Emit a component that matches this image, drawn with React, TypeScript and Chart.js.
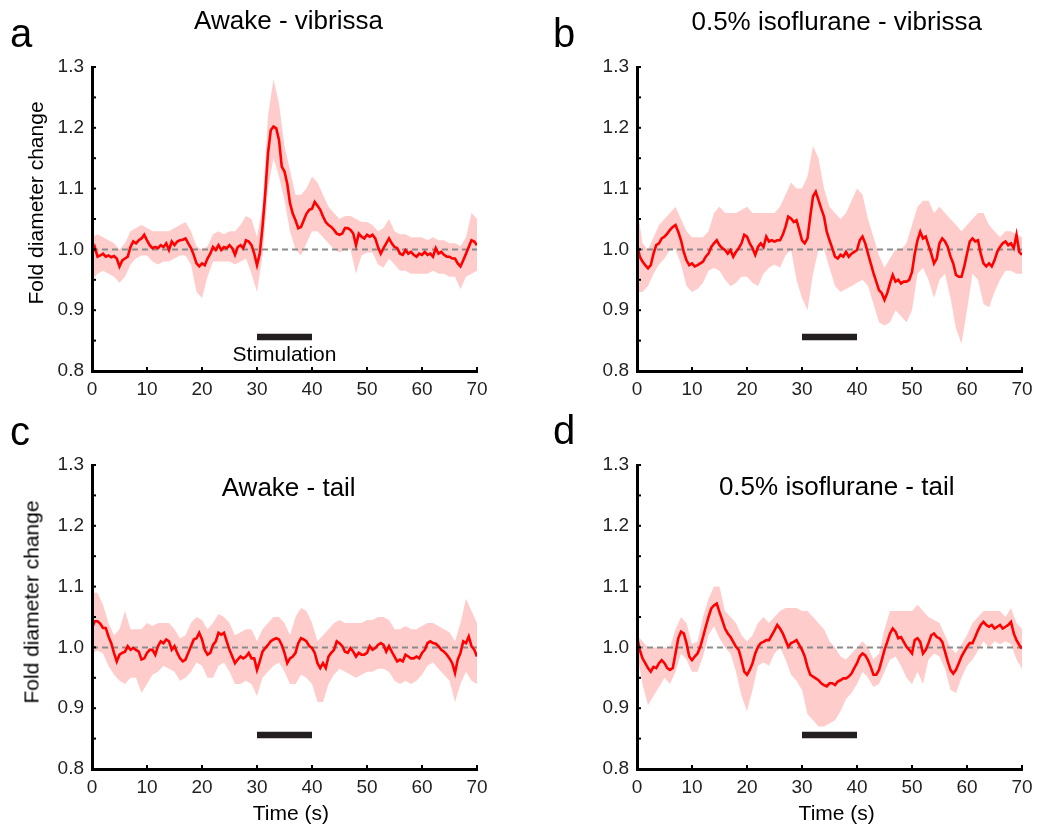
import React, { useEffect, useRef } from "react";
import { Chart, registerables } from "chart.js";

Chart.register(...registerables);

// ---------- data ----------
const TIME_STEP = 0.5; // s, sampling of the mean traces
const TIME = Array.from({ length: 141 }, (_, i) => i * TIME_STEP);
const BAND_TIME = Array.from({ length: 71 }, (_, i) => i); // 1 s sampling of the error band

const X_MIN = 0;
const X_MAX = 70;
const X_STEP = 10;
const Y_MIN = 0.8;
const Y_MAX = 1.3;
const Y_STEP = 0.05;
const BASELINE = 1.0;
const STIM_START = 30;
const STIM_END = 40;
const STIM_LEVEL = 0.856;

const MEAN_A = [
  0.993, 1.004, 0.988, 0.99, 0.993, 0.988, 0.99, 0.987, 0.989, 0.985,
  0.972, 0.982, 0.985, 0.988, 1.004, 1.013, 1.01, 1.015, 1.018, 1.024,
  1.015, 1.007, 1.002, 1.004, 1.002, 1.007, 1.004, 1.01, 0.999, 1.013,
  1.007, 1.013, 1.015, 1.016, 1.018, 1.01, 1.002, 0.991, 0.977, 0.972,
  0.977, 0.974, 0.985, 0.993, 1.004, 0.999, 1.007, 0.999, 1.004, 1.002,
  1.007, 1.002, 0.991, 1.004, 1.007, 1.002, 1.015, 1.013, 1.007, 0.993,
  0.974, 0.993, 1.037, 1.092, 1.158, 1.196, 1.202, 1.199, 1.18, 1.136,
  1.128, 1.108, 1.076, 1.059, 1.048, 1.035, 1.037, 1.048, 1.059, 1.065,
  1.067, 1.078, 1.072, 1.065, 1.054, 1.045, 1.04, 1.037, 1.032, 1.026,
  1.024, 1.026, 1.035, 1.035, 1.032, 1.026, 1.007, 1.026, 1.021, 1.018,
  1.024, 1.021, 1.024, 1.018, 1.004, 0.993, 1.002, 1.01, 1.018, 1.01,
  1.004, 1.002, 0.993, 0.991, 0.999, 0.993, 0.996, 0.991, 0.988, 0.993,
  0.991, 0.996, 0.991, 0.993, 0.988, 1.002, 0.993, 0.996, 0.991, 0.988,
  0.988, 0.985, 0.985, 0.977, 0.972, 0.982, 0.993, 1.004, 1.015, 1.013,
  1.007,
];
const UPPER_A = [
  1.02, 1.025, 1.02, 1.015, 1.01, 1.0, 1.01, 1.03, 1.035, 1.04,
  1.035, 1.03, 1.03, 1.03, 1.03, 1.035, 1.04, 1.045, 1.03, 1.005,
  1.0, 1.005, 1.025, 1.03, 1.025, 1.03, 1.03, 1.04, 1.055, 1.05,
  1.02, 1.07, 1.22, 1.28, 1.24, 1.17, 1.13, 1.09, 1.09, 1.1,
  1.12, 1.11, 1.09, 1.07, 1.06, 1.05, 1.055, 1.055, 1.05, 1.045,
  1.045, 1.04, 1.03, 1.035, 1.05, 1.03, 1.025, 1.025, 1.02, 1.02,
  1.02, 1.015, 1.02, 1.015, 1.015, 1.01, 1.01, 1.005, 1.02, 1.06,
  1.05,
];
const LOWER_A = [
  0.95, 0.96, 0.965, 0.96, 0.955, 0.945, 0.955, 0.975, 0.985, 0.99,
  0.99, 0.98, 0.975, 0.98, 0.98, 0.985, 0.99, 0.99, 0.975, 0.93,
  0.92, 0.955, 0.98, 0.98, 0.98, 0.98, 0.975, 0.98, 0.985, 0.96,
  0.93, 0.99, 1.1, 1.15, 1.12, 1.08, 1.03, 1.0, 0.99, 1.01,
  1.03, 1.03, 1.02, 1.01, 1.0, 0.995, 1.0, 1.0, 0.96, 0.99,
  0.995, 0.995, 0.975, 0.97, 0.985, 0.975, 0.965, 0.965, 0.96, 0.96,
  0.96, 0.96, 0.965, 0.96, 0.96, 0.955, 0.955, 0.935, 0.955, 0.96,
  0.965,
];

const MEAN_B = [
  1.01, 0.988, 0.98, 0.974, 0.969, 0.974, 0.993, 1.007, 1.01, 1.018,
  1.021, 1.026, 1.032, 1.037, 1.04, 1.029, 1.015, 0.996, 0.982, 0.974,
  0.977, 0.972, 0.974, 0.977, 0.98, 0.988, 0.993, 1.004, 1.01, 1.015,
  1.007, 1.002, 0.999, 0.993, 0.999, 0.988, 0.996, 1.002, 1.01, 1.024,
  1.021, 1.01, 1.002, 0.991, 1.004, 1.01, 1.004, 1.021, 1.013, 1.015,
  1.013, 1.015, 1.015, 1.024, 1.037, 1.054, 1.051, 1.045, 1.048, 1.032,
  1.015, 1.01, 1.018, 1.054, 1.087, 1.095, 1.081, 1.067, 1.054, 1.029,
  1.015, 1.002, 0.988, 0.985, 0.991, 0.988, 0.996, 0.988, 0.993, 0.996,
  0.999, 1.015, 1.021, 1.01, 0.993, 0.977, 0.961, 0.947, 0.933, 0.928,
  0.917, 0.928, 0.944, 0.958, 0.947, 0.95, 0.944, 0.947, 0.947, 0.95,
  0.963, 0.993, 1.015, 1.029, 1.018, 1.021, 1.007, 0.993, 0.977, 0.985,
  1.01, 1.018, 1.013, 1.004, 0.988, 0.977, 0.958, 0.955, 0.955, 0.972,
  0.993, 1.013, 1.018, 1.013, 1.015, 0.993, 0.977, 0.972, 0.977, 0.972,
  0.982, 0.996, 1.004, 1.01, 1.013, 1.007, 1.01, 1.002, 1.024, 0.996,
  0.991,
];
const UPPER_B = [
  1.07, 1.01, 1.0, 1.02, 1.04, 1.05, 1.06, 1.07, 1.05, 1.03,
  1.02, 1.02, 1.02, 1.03, 1.06, 1.07, 1.06, 1.06, 1.06, 1.065,
  1.07, 1.06, 1.06, 1.06, 1.06, 1.06, 1.07, 1.09, 1.11, 1.1,
  1.1, 1.12, 1.17, 1.15, 1.1, 1.07, 1.06, 1.05, 1.06, 1.08,
  1.1, 1.09, 1.05, 1.02, 0.99, 0.97, 0.985, 1.0, 1.0, 1.01,
  1.04, 1.07, 1.08, 1.08, 1.06, 1.07, 1.06, 1.05, 1.04, 1.03,
  1.04, 1.05, 1.06, 1.06, 1.04, 1.03, 1.02, 1.03, 1.03, 1.025,
  1.02,
];
const LOWER_B = [
  0.93, 0.93, 0.94, 0.96, 0.975, 0.985, 1.0, 1.0, 0.975, 0.94,
  0.93, 0.935, 0.945, 0.965, 0.97, 0.965, 0.95, 0.94, 0.945, 0.955,
  0.955, 0.945, 0.94, 0.96, 0.97, 0.975, 0.97, 0.99, 1.0, 0.95,
  0.92, 0.9, 0.96, 1.0, 1.0, 0.97, 0.94, 0.93, 0.935, 0.94,
  0.945, 0.95, 0.94, 0.91, 0.88, 0.875, 0.88, 0.9, 0.89, 0.88,
  0.9, 0.96, 0.97, 0.95, 0.92, 0.95, 0.96, 0.92, 0.87, 0.845,
  0.9, 0.96, 0.95, 0.91, 0.905, 0.93, 0.95, 0.965, 0.965, 0.96,
  0.96,
];

const MEAN_C = [
  1.032, 1.043, 1.043, 1.039, 1.032, 1.032, 1.018, 1.007, 0.991, 0.977,
  0.988, 0.991, 0.993, 1.002, 0.996, 0.999, 0.996, 0.993, 0.98, 0.982,
  0.991, 0.996, 0.996, 0.988, 1.002, 1.01, 1.007, 1.013, 1.01, 0.996,
  1.002, 0.991, 0.982, 0.977, 0.98, 0.991, 1.002, 1.013, 1.015, 1.024,
  1.013, 0.996, 0.988, 0.991, 1.004, 1.01, 1.024, 1.021, 1.024, 1.01,
  0.996, 0.985, 0.974, 0.98, 0.985, 0.982, 0.985, 0.991, 0.982, 0.982,
  0.963, 0.977, 0.993, 0.999, 1.004, 1.01, 1.013, 1.015, 1.013, 1.004,
  0.991, 0.974, 0.982, 0.985, 0.991, 1.007, 1.015, 1.013, 1.01, 1.002,
  0.999, 0.991, 0.974, 0.966, 0.974, 0.966, 0.985, 0.991, 0.996, 1.01,
  1.007, 1.002, 0.993, 0.991, 0.999, 0.993, 0.985, 0.991, 0.988, 0.988,
  0.991, 1.002, 0.996, 0.999, 1.004, 1.007, 1.004, 0.993, 1.002, 0.993,
  0.985, 0.977, 0.98, 0.977, 0.988, 0.985, 0.982, 0.982, 0.985, 0.982,
  0.991, 0.996, 1.007, 1.01, 1.007, 1.006, 1.002, 0.996, 0.993, 0.988,
  0.982, 0.974, 0.958, 0.98, 0.991, 1.01, 1.007, 1.018, 1.002, 0.996,
  0.985,
];
const UPPER_C = [
  1.09, 1.09, 1.07, 1.04, 1.02, 1.03, 1.06, 1.03, 1.03, 1.03,
  1.04, 1.035, 1.04, 1.04, 1.04, 1.03, 1.015, 1.02, 1.04, 1.05,
  1.045, 1.03, 1.04, 1.055, 1.05, 1.04, 1.02, 1.025, 1.03, 1.03,
  1.01, 1.03, 1.04, 1.05, 1.05, 1.04, 1.02, 1.05, 1.065, 1.06,
  1.04, 1.01, 1.02, 1.03, 1.04, 1.045, 1.04, 1.04, 1.04, 1.04,
  1.045, 1.045, 1.05, 1.05, 1.045, 1.03, 1.03, 1.035, 1.03, 1.03,
  1.035, 1.04, 1.04, 1.035, 1.03, 1.025, 1.01, 1.04, 1.08, 1.06,
  1.04,
];
const LOWER_C = [
  0.99, 0.995, 0.99, 0.97, 0.955, 0.945, 0.94, 0.95, 0.95, 0.925,
  0.94, 0.955, 0.96, 0.97, 0.965, 0.96, 0.945, 0.95, 0.96, 0.975,
  0.97, 0.95, 0.95, 0.97, 0.975, 0.96, 0.94, 0.94, 0.945, 0.94,
  0.92, 0.95, 0.96, 0.97, 0.975, 0.96, 0.94, 0.94, 0.955, 0.95,
  0.94, 0.91, 0.91, 0.94, 0.955, 0.965, 0.96, 0.955, 0.95, 0.955,
  0.96, 0.96, 0.965, 0.965, 0.96, 0.945, 0.94, 0.945, 0.94, 0.945,
  0.955, 0.97, 0.975, 0.965, 0.955, 0.945, 0.91, 0.94, 0.96, 0.945,
  0.94,
];

const MEAN_D = [
  1.017, 0.996, 0.982, 0.974, 0.966, 0.96, 0.968, 0.966, 0.974, 0.979,
  0.974, 0.966, 0.963, 0.966, 0.99, 1.015, 1.026, 1.023, 1.007, 0.985,
  0.979, 0.985, 0.99, 1.001, 1.017, 1.034, 1.05, 1.064, 1.069, 1.072,
  1.058, 1.045, 1.031, 1.023, 1.017, 1.009, 1.001, 0.996, 0.979, 0.96,
  0.955, 0.963, 0.974, 0.99, 1.001, 1.007, 1.009, 1.012, 1.012, 1.02,
  1.028, 1.037, 1.031, 1.023, 1.012, 1.001, 1.007, 1.009, 1.012, 1.004,
  0.996, 0.985, 0.968, 0.955, 0.952, 0.949, 0.946, 0.941, 0.938, 0.936,
  0.941, 0.941, 0.938, 0.944, 0.946, 0.949, 0.949, 0.952, 0.957, 0.966,
  0.974, 0.985, 0.99, 0.987, 0.979, 0.968, 0.955, 0.955, 0.963, 0.979,
  0.996, 1.009, 1.023, 1.031, 1.026, 1.015, 1.017, 1.009, 1.001, 0.996,
  0.99, 1.012, 1.015, 1.009, 0.99, 0.996, 1.007, 1.02, 1.023, 1.017,
  1.015, 1.009, 0.993, 0.977, 0.963, 0.957, 0.963, 0.974, 0.985, 0.993,
  1.001, 1.007, 1.007, 1.017, 1.028, 1.037, 1.042, 1.037, 1.034, 1.037,
  1.031, 1.034, 1.037, 1.031, 1.034, 1.037, 1.042, 1.023, 1.012, 1.004,
  0.998,
];
const UPPER_D = [
  1.02, 1.01, 1.0, 1.0, 1.0, 1.0, 1.0, 1.03, 1.05, 1.04,
  1.005, 1.01, 1.05, 1.08, 1.1, 1.1, 1.06, 1.05, 1.04, 1.02,
  1.01, 1.02, 1.04, 1.05, 1.04, 1.05, 1.06, 1.065, 1.065, 1.065,
  1.06, 1.06, 1.05, 1.04, 1.03, 1.01, 1.0, 0.985, 0.98, 0.99,
  1.0, 1.01, 1.0, 0.98, 0.99, 1.03, 1.06, 1.06, 1.06, 1.06,
  1.06, 1.07, 1.06, 1.05, 1.045, 1.04, 1.02, 1.0, 0.99, 1.005,
  1.02, 1.04, 1.05, 1.06, 1.06, 1.06, 1.06, 1.05, 1.065, 1.04,
  1.03,
];
const LOWER_D = [
  0.99, 0.94, 0.905, 0.92, 0.935, 0.95, 0.94, 0.96, 0.99, 0.98,
  0.96, 0.96, 0.985, 1.02, 1.035, 1.015, 1.0, 0.99, 0.96, 0.92,
  0.895, 0.93, 0.97, 0.975, 0.97, 0.99, 1.0, 0.98, 0.955, 0.945,
  0.93, 0.89, 0.88, 0.87, 0.87, 0.875, 0.88, 0.895, 0.915, 0.925,
  0.94, 0.96, 0.95, 0.935, 0.94, 0.96, 0.98, 0.985, 0.97, 0.95,
  0.94, 0.96, 0.94, 0.98, 0.99, 0.985, 0.965, 0.93, 0.925, 0.95,
  0.97, 0.98, 0.995, 1.01, 1.0, 1.01, 1.005, 1.01, 1.005, 0.98,
  0.965,
];

// ---------- styling ----------
const FONT = '"Liberation Sans", Arial, Helvetica, sans-serif';
const RED = "#ff0000";
const PINK = "#ffcccc";
const DASH_GREY = "#8c8c8c";
const BAR_COLOR = "#231f20";
const TICK_COLOR = "#231f20";

type PanelCfg = {
  key: string;
  mean: number[];
  upper: number[];
  lower: number[];
  left: number;
  top: number;
  width: number;
  height: number;
  area: { l: number; r: number; t: number; b: number };
};

const PANELS: PanelCfg[] = [
  { key: "a", mean: MEAN_A, upper: UPPER_A, lower: LOWER_A, left: 0, top: 0, width: 520, height: 415, area: { l: 92, r: 477, t: 67, b: 371 } },
  { key: "b", mean: MEAN_B, upper: UPPER_B, lower: LOWER_B, left: 520, top: 0, width: 521, height: 415, area: { l: 117, r: 502, t: 67, b: 371 } },
  { key: "c", mean: MEAN_C, upper: UPPER_C, lower: LOWER_C, left: 0, top: 415, width: 520, height: 414, area: { l: 92, r: 477, t: 50, b: 354 } },
  { key: "d", mean: MEAN_D, upper: UPPER_D, lower: LOWER_D, left: 520, top: 415, width: 521, height: 414, area: { l: 117, r: 502, t: 50, b: 354 } },
];

const inwardTicks = {
  id: "inwardTicks",
  afterDraw(chart: any) {
    const { ctx, chartArea, scales } = chart;
    const xs = scales.x;
    const ys = scales.y;
    ctx.save();
    ctx.strokeStyle = "#000";
    ctx.lineWidth = 2;
    ys.ticks.forEach((t: any) => {
      const py = ys.getPixelForValue(t.value);
      ctx.beginPath();
      ctx.moveTo(chartArea.left, py);
      ctx.lineTo(chartArea.left + 4, py);
      ctx.stroke();
    });
    xs.ticks.forEach((t: any) => {
      const px = xs.getPixelForValue(t.value);
      ctx.beginPath();
      ctx.moveTo(px, chartArea.bottom);
      ctx.lineTo(px, chartArea.bottom - 4);
      ctx.stroke();
    });
    ctx.restore();
  },
};

function Panel({ cfg }: { cfg: PanelCfg }) {
  const ref = useRef<HTMLCanvasElement | null>(null);
  useEffect(() => {
    if (!ref.current) return;
    const { area, width, height } = cfg;
    const chart = new Chart(ref.current, {
      type: "line",
      data: {
        datasets: [
          {
            label: "mean",
            data: TIME.map((t, i) => ({ x: t, y: cfg.mean[i] })),
            borderColor: RED,
            borderWidth: 2.6,
            pointRadius: 0,
            tension: 0,
            fill: false,
            order: 0,
          },
          {
            label: "baseline",
            data: [
              { x: X_MIN, y: BASELINE },
              { x: X_MAX, y: BASELINE },
            ],
            borderColor: DASH_GREY,
            borderWidth: 2,
            borderDash: [6, 4],
            pointRadius: 0,
            fill: false,
            order: 1,
          },
          {
            label: "stimulation",
            data: [
              { x: STIM_START, y: STIM_LEVEL },
              { x: STIM_END, y: STIM_LEVEL },
            ],
            borderColor: BAR_COLOR,
            borderWidth: 6.5,
            borderCapStyle: "butt",
            pointRadius: 0,
            fill: false,
            order: 2,
          },
          {
            label: "upper",
            data: BAND_TIME.map((t, i) => ({ x: t, y: cfg.upper[i] })),
            borderColor: "rgba(0,0,0,0)",
            borderWidth: 0,
            backgroundColor: PINK,
            pointRadius: 0,
            fill: "+1",
            order: 3,
          },
          {
            label: "lower",
            data: BAND_TIME.map((t, i) => ({ x: t, y: cfg.lower[i] })),
            borderColor: "rgba(0,0,0,0)",
            borderWidth: 0,
            pointRadius: 0,
            fill: false,
            order: 4,
          },
        ],
      },
      options: {
        animation: false,
        responsive: false,
        maintainAspectRatio: false,
        layout: { padding: { left: 0, top: area.t, right: width - area.r, bottom: 0 } },
        plugins: {
          legend: { display: false },
          tooltip: { enabled: false },
          title: { display: false },
        },
        scales: {
          x: {
            type: "linear",
            min: X_MIN,
            max: X_MAX,
            ticks: {
              stepSize: X_STEP,
              autoSkip: false,
              maxRotation: 0,
              padding: 7,
              color: TICK_COLOR,
              font: { family: FONT, size: 19 },
            },
            grid: { display: false, drawTicks: false },
            border: { display: true, color: "#000", width: 3, z: 2 },
            afterFit: (s: any) => {
              s.height = height - area.b;
              s.paddingLeft = 0;
              s.paddingRight = 0;
            },
          },
          y: {
            type: "linear",
            min: Y_MIN,
            max: Y_MAX,
            ticks: {
              stepSize: Y_STEP,
              autoSkip: false,
              padding: 8,
              color: TICK_COLOR,
              font: { family: FONT, size: 19 },
              callback: (v: any) => {
                const n = Number(v) * 10;
                return Math.abs(n - Math.round(n)) < 1e-6 ? Number(v).toFixed(1) : "";
              },
            },
            grid: { display: false, drawTicks: false },
            border: { display: true, color: "#000", width: 3, z: 2 },
            afterFit: (s: any) => {
              s.width = area.l;
              s.paddingTop = 0;
              s.paddingBottom = 0;
            },
          },
        },
      } as any,
      plugins: [inwardTicks],
    });
    return () => chart.destroy();
  }, [cfg]);
  return (
    <canvas
      ref={ref}
      width={cfg.width}
      height={cfg.height}
      style={{ position: "absolute", left: cfg.left, top: cfg.top, width: cfg.width, height: cfg.height }}
    />
  );
}

function Text({ text, cx, left, baseline, size }: { text: string; cx?: number; left?: number; baseline: number; size: number }) {
  const top = baseline - 0.8465 * size;
  const style: React.CSSProperties = {
    position: "absolute",
    top,
    fontFamily: FONT,
    fontSize: size,
    lineHeight: `${size}px`,
    whiteSpace: "nowrap",
    color: "#000",
  };
  if (cx !== undefined) {
    style.left = cx - 300;
    style.width = 600;
    style.textAlign = "center";
  } else {
    style.left = left;
  }
  return <div style={style}>{text}</div>;
}

function VText({ text, cx, cy, size }: { text: string; cx: number; cy: number; size: number }) {
  return (
    <div
      style={{
        position: "absolute",
        left: cx,
        top: cy,
        fontFamily: FONT,
        fontSize: size,
        lineHeight: `${size}px`,
        whiteSpace: "nowrap",
        color: "#000",
        transform: "translate(-50%, -50%) rotate(-90deg)",
      }}
    >
      {text}
    </div>
  );
}

export default function App() {
  return (
    <div style={{ position: "absolute", left: 0, top: 0, width: 1041, height: 829, background: "#fff", overflow: "hidden" }}>
      {PANELS.map((p) => (
        <Panel key={p.key} cfg={p} />
      ))}
      <Text text="a" left={10} baseline={46.7} size={40} />
      <Text text="b" left={553} baseline={46.7} size={40} />
      <Text text="c" left={10} baseline={445} size={40} />
      <Text text="d" left={553} baseline={444} size={40} />
      <Text text="Awake - vibrissa" cx={288.5} baseline={29} size={26} />
      <Text text="0.5% isoflurane - vibrissa" cx={836.7} baseline={30} size={26} />
      <Text text="Awake - tail" cx={288.7} baseline={496.5} size={26} />
      <Text text="0.5% isoflurane - tail" cx={836.7} baseline={495.5} size={26} />
      <VText text="Fold diameter change" cx={34.9} cy={202.5} size={21} />
      <VText text="Fold diameter change" cx={30.7} cy={601.5} size={21} />
      <Text text="Stimulation" cx={284.5} baseline={360.7} size={21} />
      <Text text="Time (s)" cx={290.8} baseline={820} size={21} />
      <Text text="Time (s)" cx={836.7} baseline={820} size={21} />
    </div>
  );
}
